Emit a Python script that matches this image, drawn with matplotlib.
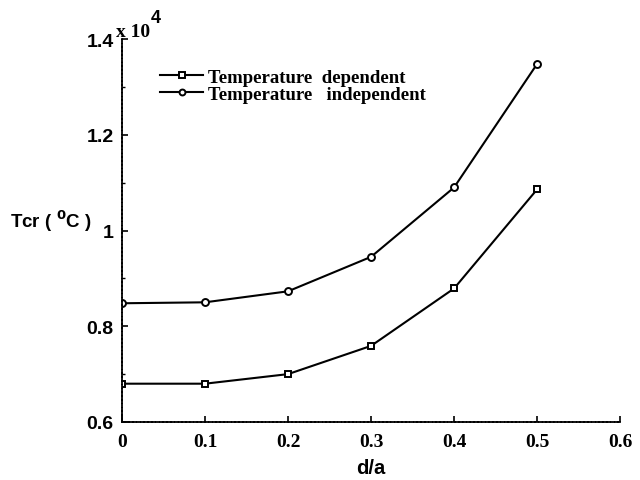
import matplotlib
matplotlib.use("Agg")
import matplotlib.pyplot as plt
from matplotlib.ticker import MultipleLocator

# Critical temperature vs. crack depth ratio
d_over_a = [0.0, 0.1, 0.2, 0.3, 0.4, 0.5]
tcr_dependent = [0.680, 0.680, 0.700, 0.759, 0.879, 1.086]     # x 10^4 degC
tcr_independent = [0.848, 0.850, 0.873, 0.945, 1.090, 1.348]   # x 10^4 degC

x_ticks = [0.0, 0.1, 0.2, 0.3, 0.4, 0.5, 0.6]
x_tick_labels = ["0", "0.1", "0.2", "0.3", "0.4", "0.5", "0.6"]
y_ticks = [0.6, 0.8, 1.0, 1.2, 1.4]
y_tick_labels = ["0.6", "0.8", "1", "1.2", "1.4"]

fig = plt.figure(figsize=(6.4, 4.81), dpi=100)
ax = fig.add_axes([0.1906, 0.1206, 0.7784, 0.7962])

ax.plot(d_over_a, tcr_dependent, color="black", lw=1.5, marker="s",
        markersize=5, markerfacecolor="white", markeredgewidth=1.4,
        label="Temperature  dependent")
ax.plot(d_over_a, tcr_independent, color="black", lw=1.5, marker="o",
        markersize=5, markerfacecolor="white", markeredgewidth=1.4,
        label="Temperature   independent")

ax.set_xlim(0, 0.6)
ax.set_ylim(0.6, 1.4)
ax.set_xticks(x_ticks)
ax.set_xticklabels(x_tick_labels)
ax.set_yticks(y_ticks)
ax.set_yticklabels(y_tick_labels)
ax.yaxis.set_minor_locator(MultipleLocator(0.1))

for s in ("top", "right"):
    ax.spines[s].set_visible(False)
for s in ("left", "bottom"):
    ax.spines[s].set_linewidth(1.3)
    ax.spines[s].set_linestyle((0, (1.5, 0.6)))

ax.tick_params(which="major", direction="in", length=4, width=1.2)
ax.tick_params(which="minor", direction="in", length=2.5, width=1.0)
ax.tick_params(axis="x", pad=8)
ax.tick_params(axis="y", pad=6)
for lab in ax.get_xticklabels():
    lab.set_family("Liberation Serif")
    lab.set_fontweight("bold")
    lab.set_fontsize(14)
for lab in ax.get_yticklabels():
    lab.set_family("Liberation Sans")
    lab.set_fontweight("bold")
    lab.set_fontsize(14)

ax.set_xlabel("d/a", fontsize=14.5, family="Liberation Sans",
              fontweight="bold", labelpad=6)
fig.text(0.016, 0.54, r"Tcr ( $^{\mathbf{0}}$C )", fontsize=13.5,
         family="Liberation Sans", fontweight="bold", va="center")

# exponent marker above the y axis
fig.text(116 / 640, 1 - 37 / 481, "x 10", fontsize=14,
         family="Liberation Serif", fontweight="bold", va="baseline")
fig.text(151 / 640, 1 - 23 / 481, "4", fontsize=13,
         family="Liberation Sans", fontweight="bold", va="baseline")

leg = ax.legend(loc="upper left", bbox_to_anchor=(0.062, 0.942),
                frameon=False, handlelength=2.3, handletextpad=0.25,
                labelspacing=0.0, borderaxespad=0, markerscale=0.85,
                prop={"family": "Liberation Serif", "size": 13.5,
                      "weight": "bold"})

fig.savefig("out.png", dpi=100, facecolor="white")
